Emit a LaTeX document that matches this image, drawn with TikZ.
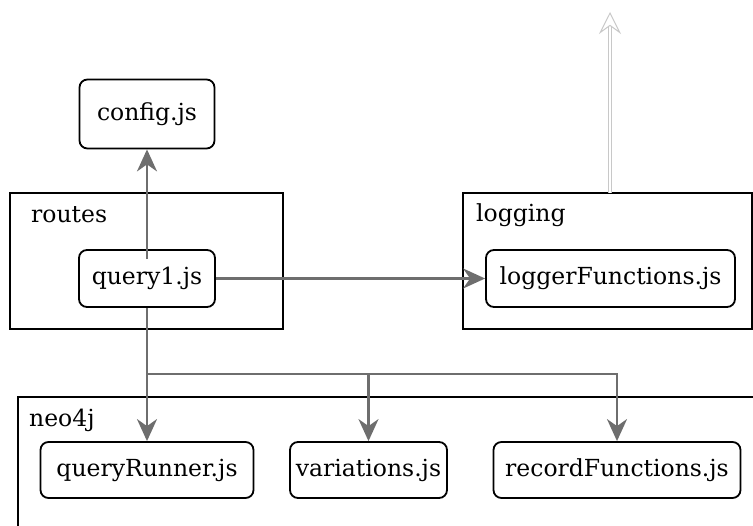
\documentclass[tikz,border=0pt]{standalone}
\usepackage{fontspec}
\setmainfont{DejaVu Serif}
\usepackage{xcolor}
\usetikzlibrary{arrows.meta}
\usetikzlibrary{calc}

\definecolor{depgray}{HTML}{6E6E6E}
\definecolor{faintgray}{HTML}{C8C8C8}

\tikzset{
  group/.style={draw, line width=2pt, inner sep=0pt, outer sep=0pt, anchor=north west},
  grouplabel/.style={anchor=west, inner sep=0pt, font=\fontsize{23.5}{27}\selectfont},
  file/.style={draw, rounded corners=8pt, line width=1.8pt, fill=white, inner sep=0pt,
    font=\fontsize{23.5}{27}\selectfont},
  dep/.style={draw=depgray, line width=2.5pt, -{Stealth[length=22pt, width=20pt, inset=7pt]}},
  faint/.style={draw=faintgray, line width=0.8pt, double, double distance=1.6pt,
    -{Stealth[open, length=22pt, width=22pt, inset=8pt, line width=1pt]}},
}

\begin{document}
\begin{tikzpicture}[x=1pt, y=-1pt]
      \useasboundingbox (0,0) rectangle (753,526);
      \clip (0,0) rectangle (753,526);

      % groups
      \node[group, minimum width=273pt, minimum height=136pt] (routes) at (10,193) {};
      \node[group, minimum width=289pt, minimum height=136pt] (logging) at (463,193) {};
      \node[group, minimum width=742pt, minimum height=150pt] (neo4j) at (18,397) {};
      \node[grouplabel] (routeslabel) at (31,215) {routes};
      \node[grouplabel] (logginglabel) at (476,215) {logging};
      \node[grouplabel] (neo4jlabel) at (29,420) {neo4j};

      % files
      \node[file, minimum width=135pt, minimum height=69pt] (config) at (147,114) {config.js};
      \node[file, minimum width=136pt, minimum height=57pt] (query1) at (147,278.5) {query1.js};
      \node[file, minimum width=249pt, minimum height=57pt] (logger) at (610.5,278.5) {loggerFunctions.js};
      \node[file, minimum width=213pt, minimum height=56pt] (runner) at (147,470) {queryRunner.js};
      \node[file, minimum width=157pt, minimum height=56pt] (variations) at (368.5,470) {variations.js};
      \node[file, minimum width=247pt, minimum height=56pt] (records) at (617,470) {recordFunctions.js};

      \coordinate (bus) at (147,374);
      \coordinate (up) at (610,12);

      \draw[dep] ([yshift=-10pt]query1.north) -- (config);
      \draw[dep] (query1) -- (logger);
      \draw[dep] (query1) -- (runner);
      \draw[dep] (query1.south) |- (bus -| variations) -- (variations);
      \draw[dep] (query1.south) |- (bus -| records) -- (records);
      \draw[faint] (logging.north -| up) -- (up);
    \end{tikzpicture}
\end{document}
